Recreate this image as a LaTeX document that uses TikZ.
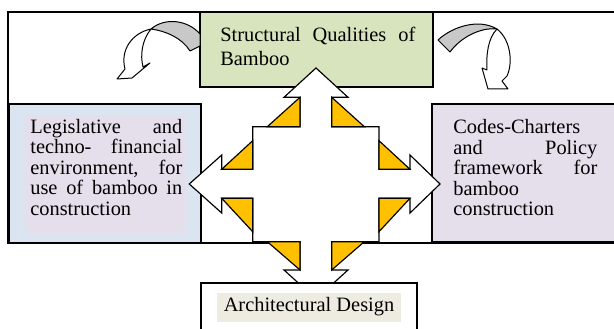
\documentclass[tikz,border=0pt]{standalone}
\usepackage{fontspec}
\setmainfont{Liberation Serif}
\definecolor{qgreen}{HTML}{D7E4BD}
\definecolor{qblue}{HTML}{DBE5F1}
\definecolor{qlav}{HTML}{E5DFEC}
\definecolor{qbeige}{HTML}{EEECE1}
\definecolor{qorange}{HTML}{FFC000}
\definecolor{qgray}{HTML}{C8C8C8}
\tikzset{
  box/.style={draw=black,line width=0.8pt},
  frameline/.style={draw=black,line width=0.7pt},
  bigarrow/.style={draw=black,fill=white,line width=0.7pt,line join=miter},
  corner/.style={draw=black,fill=qorange,line width=0.7pt},
  bandback/.style={draw=black,fill=qgray,line width=0.6pt,line join=round},
  bandfront/.style={draw=black,fill=white,line width=0.6pt,line join=round},
  txt/.style={anchor=base west,inner sep=0pt,align=left,font=\fontsize{12.24pt}{12.3pt}\selectfont},
}
\begin{document}
\begin{tikzpicture}[x=0.6pt,y=-0.6pt]
\useasboundingbox (0,0) rectangle (614,329);
\clip (0,0) rectangle (614,329);
\fill[white] (0,0) rectangle (614,329);
% outer frame
\draw[frameline] (8,12) rectangle (660,243);
% boxes
\draw[box,fill=qgreen] (200,12) rectangle (433,87);
\draw[box,fill=qblue] (9,104) rectangle (201,243);
\fill[qlav] (25,115) rectangle (185,233);
\draw[box,fill=qlav] (432,104) rectangle (660,242);
% left curved arrow
\draw[bandback] (200,34) .. controls (188,20) and (165,17) .. (151,29)
  .. controls (166,31) and (182,38) .. (190,51) -- (200,46) -- cycle;
\draw[bandfront] (151,29) .. controls (132,33) and (120,50) .. (125,69)
  -- (117,79) -- (132,78) -- (150,63) -- (143,67)
  .. controls (140,55) and (142,40) .. (151,29) -- cycle;
% right curved arrow
\draw[bandback] (438,40) .. controls (452,27) and (478,18) .. (497,29)
  .. controls (480,27) and (460,38) .. (450,52) -- cycle;
\draw[bandfront] (497,29) .. controls (511,40) and (513,63) .. (507,76)
  -- (502,81) -- (508,89) -- (488,89) -- (482,68) -- (487,70)
  .. controls (486,55) and (488,38) .. (497,29) -- cycle;
% central four-way arrow
\draw[bigarrow] (316,68) -- (348,97.3) -- (331.7,97.3) -- (331.7,126.7) -- (379,126.7)
  -- (379,169.3) -- (410,169.3) -- (410,155) -- (440,184) -- (410,213) -- (410,198.3)
  -- (379,198.3) -- (379,241.7) -- (331.7,241.7) -- (331.7,270) -- (348,270) -- (316,299)
  -- (284,270) -- (300,270) -- (300,241.7) -- (252.7,241.7) -- (252.7,198.3) -- (221.7,198.3)
  -- (221.7,213) -- (189.3,184) -- (221.7,155) -- (221.7,169.3) -- (252.7,169.3)
  -- (252.7,126.7) -- (300,126.7) -- (300,97.3) -- (284,97.3) -- cycle;
\draw[corner] (300,97.3) -- (300,126.7) -- (267.3,126.7) -- cycle;
\draw[corner] (331.7,97.3) -- (331.7,126.7) -- (364.3,126.7) -- cycle;
\draw[corner] (252.7,140.7) -- (252.7,169.3) -- (221.7,169.3) -- cycle;
\draw[corner] (221.7,198.3) -- (252.7,198.3) -- (252.7,231.7) -- cycle;
\draw[corner] (379,140.7) -- (379,169.3) -- (410,169.3) -- cycle;
\draw[corner] (379,198.3) -- (410,198.3) -- (379,231.7) -- cycle;
\draw[corner] (267.3,241.7) -- (300,241.7) -- (300,270) -- cycle;
\draw[corner] (331.7,241.7) -- (364.3,241.7) -- (331.7,270) -- cycle;
% bottom box
\draw[box,fill=white] (201,283) rectangle (417,360);
\fill[qbeige] (217,293) rectangle (401,322);
% texts
\node[txt,text width=195*0.6pt,font=\fontsize{12.24pt}{14.4pt}\selectfont] (tq) at (220,41.7)
  {Structural\hfill Qualities\hfill of\\Bamboo};
\node[txt,text width=152*0.6pt] (tl) at (30,133.3)
  {Legislative\hfill and\\techno-\hfill financial\\environment,\hfill for\\use\hfill of\hfill bamboo\hfill in\\construction};
\node[txt,text width=144*0.6pt] (tr) at (453,134)
  {Codes-Charters\\and\hfill Policy\\framework\hfill for\\bamboo\\construction};
\node[anchor=base,inner sep=0pt,font=\fontsize{12.24pt}{12.3pt}\selectfont] (ta) at (309,311.7)
  {Architectural Design};
\end{tikzpicture}
\end{document}
